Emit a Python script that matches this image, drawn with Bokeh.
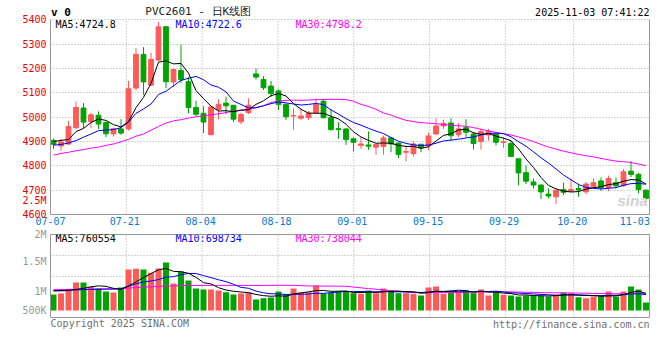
from bokeh.plotting import figure
from bokeh.models import Range1d, FixedTicker, Label, ColumnDataSource, LinearAxis, Span
from bokeh.layouts import column
from bokeh.embed import file_html
from bokeh.resources import INLINE

# ---------------- data ----------------
tick_labels = ["07-07", "07-21", "08-04", "08-18", "09-01", "09-15", "09-29", "10-20", "11-03"]
tick_index = [0, 10, 20, 30, 40, 50, 60, 69, 79]

open_ = [4905, 4882, 4890, 4957, 5038, 4982, 5008, 4978, 4931, 4952,
         4952, 5120, 5258, 5132, 5235, 5372, 5145, 5192, 5146, 5040,
         5016, 4928, 5032, 5058, 5049, 4981, 5019, 5178, 5155, 5128,
         5108, 5053, 5005, 4996, 4999, 5018, 5066, 4998, 4953, 4952,
         4911, 4884, 4886, 4877, 4880, 4915, 4894, 4856, 4850, 4889,
         4882, 4931, 4964, 4976, 4928, 4957, 4931, 4900, 4927, 4931,
         4896, 4892, 4829, 4772, 4734, 4721, 4684, 4673, 4703, 4696,
         4707, 4693, 4716, 4738, 4711, 4731, 4718, 4778, 4765, 4700]
high = [4912, 4910, 4986, 5064, 5058, 5018, 5024, 4982, 4958, 4992,
        5150, 5284, 5288, 5265, 5392, 5375, 5200, 5298, 5165, 5068,
        5045, 5045, 5074, 5085, 5050, 5019, 5078, 5200, 5169, 5149,
        5115, 5056, 5036, 5036, 5026, 5077, 5074, 5033, 4979, 4953,
        4918, 4918, 4942, 4890, 4924, 4918, 4895, 4884, 4900, 4890,
        4937, 4996, 4990, 4996, 4976, 4992, 4938, 4954, 4952, 4938,
        4918, 4904, 4830, 4802, 4748, 4725, 4707, 4701, 4731, 4748,
        4727, 4734, 4748, 4752, 4760, 4752, 4788, 4820, 4772, 4703]
low = [4870, 4862, 4886, 4950, 4955, 4955, 4952, 4918, 4921, 4928,
       4945, 5110, 5092, 5128, 5230, 5120, 5125, 5140, 5016, 5005,
       4935, 4926, 4992, 5013, 4981, 4972, 5013, 5155, 5112, 5083,
       5030, 4988, 4949, 4988, 4988, 5017, 4995, 4945, 4911, 4886,
       4859, 4870, 4866, 4846, 4846, 4856, 4832, 4818, 4839, 4856,
       4865, 4928, 4952, 4904, 4918, 4918, 4867, 4867, 4904, 4884,
       4874, 4838, 4720, 4725, 4707, 4663, 4666, 4643, 4680, 4693,
       4673, 4684, 4707, 4697, 4696, 4707, 4714, 4754, 4687, 4655]
close = [4889, 4898, 4962, 5040, 4980, 5010, 4972, 4932, 4953, 4935,
         5117, 5259, 5145, 5238, 5372, 5146, 5196, 5154, 5040, 5012,
         4980, 5042, 5053, 5047, 4992, 5011, 5049, 5165, 5121, 5097,
         5053, 5002, 5007, 5005, 5017, 5052, 4998, 4949, 4949, 4908,
         4897, 4890, 4881, 4888, 4915, 4890, 4847, 4859, 4890, 4874,
         4923, 4964, 4975, 4924, 4952, 4938, 4892, 4941, 4942, 4897,
         4899, 4839, 4771, 4737, 4721, 4693, 4676, 4700, 4691, 4703,
         4701, 4725, 4731, 4711, 4748, 4718, 4776, 4765, 4703, 4666]
volume = [704000, 748000, 955000, 1232000, 1232000, 1043000, 968000, 836000, 792000, 1012000,
          1804000, 1835000, 1804000, 1659000, 1848000, 2112000, 1188000, 1716000, 1320000, 968000,
          924000, 924000, 880000, 805000, 704000, 748000, 792000, 484000, 541000, 572000,
          836000, 704000, 968000, 792000, 805000, 1087000, 748000, 779000, 836000, 836000,
          761000, 735000, 880000, 761000, 968000, 880000, 761000, 761000, 735000, 660000,
          1012000, 1056000, 735000, 836000, 836000, 880000, 761000, 924000, 660000, 792000,
          691000, 660000, 616000, 660000, 660000, 647000, 616000, 691000, 792000, 761000,
          585000, 541000, 616000, 616000, 836000, 616000, 836000, 1056000, 924000, 352000]

# moving-average values at the start of the window (history before 07-07)
ma5_head = [4900, 4905, 4908, 4941]
ma10_head = [4885, 4888, 4894, 4904, 4918, 4931, 4945, 4947, 4949]
ma30_head = [4844, 4851, 4856, 4862, 4867, 4873, 4877, 4884, 4890, 4899,
             4909, 4922, 4931, 4947, 4962, 4976, 4985, 4990, 4996, 5002,
             5006, 5010, 5014, 5019, 5025, 5029, 5033, 5039, 5047]
vma5_head = [860000, 865000, 880000, 930000]
vma10_head = [880000, 885000, 892000, 905000, 915000, 925000, 935000, 940000, 945000]
vma30_head = [915000, 920000, 925000, 930000, 935000, 940000, 945000, 950000, 955000, 962000,
              985000, 1010000, 1030000, 1045000, 1060000, 1075000, 1085000, 1092000, 1098000, 1100000,
              1102000, 1104000, 1105000, 1105000, 1105000, 1104000, 1103000, 1102000, 1103000]

price_ticks = [4600, 4700, 4800, 4900, 5000, 5100, 5200, 5300, 5400]
vol_tick_text = ["500K", "1M", "1.5M", "2M"]

header_code = "v 0"
header_title = "PVC2601 - 日K线图"
header_time = "2025-11-03 07:41:22"
price_ma_text = ["MA5:4724.8", "MA10:4722.6", "MA30:4798.2"]
vol_ma_text = ["MA5:760554", "MA10:698734", "MA30:738044"]
footer_left = "Copyright 2025 SINA.COM"
footer_right = "http://finance.sina.com.cn"


def moving_average(values, n, head):
    out = []
    for i in range(len(values)):
        if i < n - 1:
            out.append(head[i])
        else:
            out.append(sum(values[i - n + 1:i + 1]) / n)
    return out


n = len(close)
idx = list(range(n))
RED = "#ff5a5a"
GREEN = "#00a400"
colors = [RED if c >= o else GREEN for o, c in zip(open_, close)]

ma5 = moving_average(close, 5, ma5_head)
ma10 = moving_average(close, 10, ma10_head)
ma30 = moving_average(close, 30, ma30_head)
vma5 = moving_average(volume, 5, vma5_head)
vma10 = moving_average(volume, 10, vma10_head)
vma30 = moving_average(volume, 30, vma30_head)

# ---------------- layout ----------------
SLOT_PX = 7.5
FRAME_W = 599
x_start = -0.4
x_end = x_start + FRAME_W / SLOT_PX
grid_pos = [round(x_start + k * (x_end - x_start) / 79, 3) for k in tick_index]
label_pos = [round(max(min(g - 0.2, x_end - 1.95), x_start + 0.01), 3) for g in grid_pos]
inner_grid = [g for g in grid_pos if x_start + 0.05 < g < x_end - 0.05]

PRICE_LO, PRICE_HI, PRICE_TOP = 4600, 5400, 5480      # frame reaches up to the header line
VOL_LO, VOL_HI = -308000, 3344000                     # volume panel box
VOL_FRAME_LO = -1320000                               # frame reaches down to the footer line

MONO = "DejaVu Sans Mono"
GRID = "#a8a8a8"
BORDER = "#999999"

src = ColumnDataSource(dict(
    x=idx, open=open_, high=high, low=low, close=close,
    top=[max(o, c) for o, c in zip(open_, close)],
    bottom=[min(o, c) for o, c in zip(open_, close)],
    color=colors, volume=volume,
))


def plain_axis(ax):
    ax.major_tick_out = 0
    ax.major_tick_in = 0
    ax.minor_tick_out = 0
    ax.minor_tick_in = 0


# ---------------- price panel ----------------
p = figure(width=660, height=228, title=None,
           x_range=Range1d(x_start, x_end), y_range=Range1d(PRICE_LO, PRICE_TOP),
           output_backend="svg", toolbar_location=None,
           min_border_left=50, min_border_right=11, min_border_top=0, min_border_bottom=14)
p.outline_line_color = None
p.background_fill_color = "white"
p.border_fill_color = "white"

p.yaxis.ticker = FixedTicker(ticks=price_ticks + [4657.6])
p.yaxis.major_label_overrides = {4657.6: "2.5M"}
p.yaxis.bounds = (PRICE_LO, PRICE_HI)
p.yaxis.major_label_text_color = "#ee0000"
p.yaxis.major_label_text_font = MONO
p.yaxis.major_label_text_font_size = "10px"
p.yaxis.major_label_standoff = 4
p.yaxis.axis_line_color = BORDER
plain_axis(p.yaxis[0])

p.xaxis.ticker = FixedTicker(ticks=label_pos)
p.xaxis.major_label_overrides = {pos: lab for pos, lab in zip(label_pos, tick_labels)}
p.xaxis.major_label_text_color = "#0a78d2"
p.xaxis.major_label_text_font = MONO
p.xaxis.major_label_text_font_size = "10px"
p.xaxis.major_label_standoff = 2
p.xaxis.axis_line_color = BORDER
plain_axis(p.xaxis[0])

rax = LinearAxis(ticker=FixedTicker(ticks=[]), bounds=(PRICE_LO, PRICE_HI),
                 axis_line_color=BORDER, major_label_standoff=0)
plain_axis(rax)
p.add_layout(rax, "right")

p.xgrid.visible = False
p.ygrid.ticker = FixedTicker(ticks=price_ticks)
p.ygrid.grid_line_color = GRID
p.ygrid.grid_line_dash = "1 2"
p.segment(x0=inner_grid, y0=PRICE_LO, x1=inner_grid, y1=PRICE_HI,
          line_color=GRID, line_dash="1 2", line_width=1)

p.segment(x0="x", y0="low", x1="x", y1="high", color="color", line_width=1, source=src)
p.vbar(x="x", width=0.64, top="top", bottom="bottom", fill_color="color",
       line_color="color", line_width=1, source=src)
p.line(idx, ma30, color="#ff00ff", line_width=1)
p.line(idx, ma10, color="#0000ff", line_width=1)
p.line(idx, ma5, color="black", line_width=1)

ma_x = [0.27, 16.27, 32.27]
ma_colors = ["black", "#0000ff", "#ff00ff"]
for t, xx, cc in zip(price_ma_text, ma_x, ma_colors):
    p.add_layout(Label(x=xx, y=5381, text=t, text_color=cc, text_font=MONO,
                       text_font_size="10px", text_baseline="middle"))
p.add_layout(Label(x=x_start + 0.08, y=5431, text=header_code, text_color="black", text_font=MONO,
                   text_font_size="11px", text_font_style="bold", text_baseline="middle"))
p.add_layout(Label(x=19.3, y=5434, text=header_title, text_color="#222222", text_font=MONO,
                   text_font_size="11px", text_align="center", text_baseline="middle"))
p.add_layout(Label(x=x_end, y=5431, text=header_time, text_color="black", text_font=MONO,
                   text_font_size="10px", text_align="right", text_baseline="middle"))
p.add_layout(Label(x=79.2, y=4656, text="sina", text_color="#d2d2d2",
                   text_font="Liberation Sans", text_font_style="bold italic",
                   text_font_size="15px", text_align="right", text_baseline="middle"))

# ---------------- volume panel ----------------
vol_tick_pos = [0, 849000, 2156000, VOL_HI]

v = figure(width=660, height=112, title=None,
           x_range=p.x_range, y_range=Range1d(VOL_FRAME_LO, VOL_HI),
           output_backend="svg", toolbar_location=None, x_axis_location="above",
           min_border_left=50, min_border_right=11, min_border_top=6, min_border_bottom=0)
v.outline_line_color = None
v.background_fill_color = "white"
v.border_fill_color = "white"

v.yaxis.ticker = FixedTicker(ticks=vol_tick_pos)
v.yaxis.major_label_overrides = {pos: lab for pos, lab in zip(vol_tick_pos, vol_tick_text)}
v.yaxis.bounds = (VOL_LO, VOL_HI)
v.yaxis.major_label_text_color = "#999999"
v.yaxis.major_label_text_font = MONO
v.yaxis.major_label_text_font_size = "10px"
v.yaxis.major_label_standoff = 4
v.yaxis.axis_line_color = BORDER
plain_axis(v.yaxis[0])

v.xaxis.ticker = FixedTicker(ticks=[])
v.xaxis.major_label_standoff = 0
v.xaxis.axis_line_color = BORDER
plain_axis(v.xaxis[0])

vrax = LinearAxis(ticker=FixedTicker(ticks=[]), bounds=(VOL_LO, VOL_HI),
                  axis_line_color=BORDER, major_label_standoff=0)
plain_axis(vrax)
v.add_layout(vrax, "right")
v.add_layout(Span(location=VOL_LO, dimension="width", line_color=BORDER, line_width=1))

v.xgrid.visible = False
v.ygrid.ticker = FixedTicker(ticks=[1496000, 2420000])
v.ygrid.grid_line_color = GRID
v.ygrid.grid_line_dash = "1 2"
v.segment(x0=inner_grid, y0=VOL_LO, x1=inner_grid, y1=VOL_HI,
          line_color=GRID, line_dash="1 2", line_width=1)

v.vbar(x="x", width=0.8, top="volume", bottom=0, fill_color="color", line_color=None, source=src)
v.line(idx, vma30, color="#ff00ff", line_width=1)
v.line(idx, vma10, color="#0000ff", line_width=1)
v.line(idx, vma5, color="black", line_width=1)

for t, xx, cc in zip(vol_ma_text, ma_x, ma_colors):
    v.add_layout(Label(x=xx, y=3155000, text=t, text_color=cc, text_font=MONO,
                       text_font_size="10px", text_baseline="middle"))
v.add_layout(Label(x=x_start + 0.01, y=-585000, text=footer_left, text_color="#707070", text_font=MONO,
                   text_font_size="10px", text_baseline="middle"))
v.add_layout(Label(x=x_end, y=-616000, text=footer_right, text_color="#707070", text_font=MONO,
                   text_font_size="10px", text_align="right", text_baseline="middle"))

layout = column(p, v, spacing=0)
open("out.html", "w").write(file_html(layout, INLINE))
